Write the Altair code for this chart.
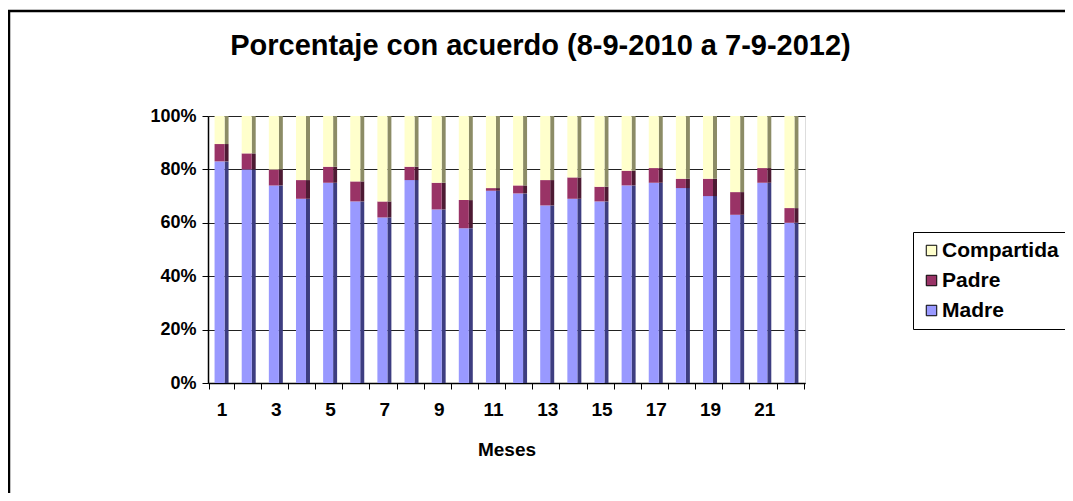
import altair as alt
import pandas as pd

meses = list(range(1, 23))
madre = [83, 80, 74, 69, 75, 68, 62, 76, 65, 58, 72, 71, 66.5, 69, 68, 74, 75, 73, 70, 63, 75, 60]
padre = [6.5, 6, 6, 7, 6, 7.5, 6, 5, 10, 10.5, 1, 3, 9.5, 8, 5.5, 5.5, 5.5, 3.5, 6.5, 8.5, 5.5, 5.5]
compartida = [10.5, 14, 20, 24, 19, 24.5, 32, 19, 25, 31.5, 27, 26, 24, 23, 26.5, 20.5, 19.5, 23.5, 23.5, 28.5, 19.5, 34.5]

series = ["Compartida", "Padre", "Madre"]
colores = ["#FFFFCC", "#993366", "#9999FF"]
colores_lado = ["#8C8C66", "#4D1A33", "#3D3D80"]
orden = {"Madre": 0, "Padre": 1, "Compartida": 2}

rows = []
for i, m in enumerate(meses):
    for name, vals in (("Madre", madre), ("Padre", padre), ("Compartida", compartida)):
        rows.append({"Mes": m, "Serie": name, "Valor": vals[i], "Orden": orden[name]})
df = pd.DataFrame(rows)

FONT = "Liberation Sans"
W, H = 597, 267

x_enc = alt.X("Mes:O", title="Meses",
              axis=alt.Axis(labelAngle=0, labelExpr="datum.value % 2 == 1 ? datum.label : ''",
                            tickBand="extent", tickSize=6, tickColor="black", domainColor="black",
                            domainWidth=1.5, labelPadding=11, titlePadding=21,
                            labelFontSize=19, labelFontWeight="bold", titleFontSize=19,
                            titleFontWeight="bold", labelColor="black", titleColor="black"))
y_enc = alt.Y("Valor:Q", stack="normalize", title=None,
              scale=alt.Scale(domain=[0, 1]),
              axis=alt.Axis(format=".0%", values=[0, 0.2, 0.4, 0.6, 0.8, 1.0],
                            tickSize=6, tickColor="black", domainColor="black", domainWidth=1.5,
                            gridColor="#222222", gridWidth=1.2, labelPadding=6,
                            labelFontSize=18, labelFontWeight="bold", labelColor="black"))

base = alt.Chart(df)

front = base.mark_bar(size=10, xOffset=-2).encode(
    x=x_enc,
    y=y_enc,
    color=alt.Color("Serie:N", scale=alt.Scale(domain=series, range=colores),
                    legend=alt.Legend(title=None, orient="none", legendX=705, legendY=116,
                                      symbolType="square", symbolSize=110,
                                      symbolStrokeColor="black", symbolStrokeWidth=1,
                                      labelFontSize=21, labelFontWeight="bold", labelColor="black",
                                      labelFont=FONT, labelOffset=0, rowPadding=8, padding=8,
                                      strokeColor="black", fillColor="white")),
    order=alt.Order("Orden:Q", sort="ascending"),
)

side = base.mark_bar(size=4, xOffset=5).encode(
    x=x_enc,
    y=y_enc,
    color=alt.Color("Serie:N", scale=alt.Scale(domain=series, range=colores_lado), legend=None),
    order=alt.Order("Orden:Q", sort="ascending"),
)

frame = alt.Chart(pd.DataFrame({"a": [0]})).mark_rect(
    fill=None, stroke="black", strokeWidth=2.5
).encode(x=alt.value(-199), x2=alt.value(W + 300), y=alt.value(-105), y2=alt.value(H + 150))

chart = alt.layer(frame, side, front).resolve_scale(color="independent").properties(
    width=W, height=H,
    title=alt.Title("Porcentaje con acuerdo (8-9-2010 a 7-9-2012)", fontSize=29,
                    fontWeight="bold", font=FONT, color="black", anchor="middle",
                    dx=34, offset=-51),
    autosize=alt.AutoSizeParams(type="none"),
    padding={"left": 200, "top": 108, "right": 260, "bottom": 110},
).configure_view(fill="#C0C0C0", stroke="#808080").configure(
    font=FONT, background="white"
)

chart.save("out.html", embed_options={"renderer": "svg", "actions": False})
